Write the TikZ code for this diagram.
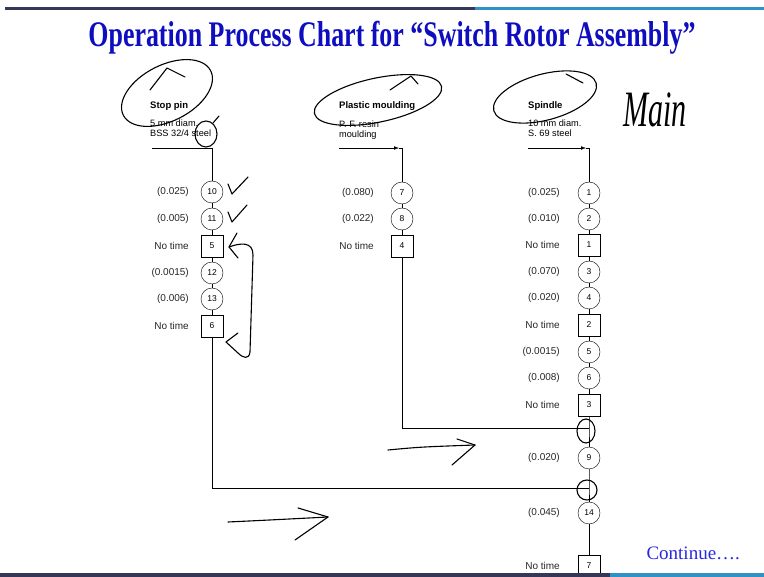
\documentclass[tikz,border=0pt]{standalone}
\usepackage{fontspec}
\setmainfont{Liberation Serif}
\setsansfont{Liberation Sans}
\usetikzlibrary{arrows.meta}
\definecolor{titleblue}{RGB}{14,14,192}
\definecolor{contblue}{RGB}{40,40,225}
\definecolor{navybar}{RGB}{52,56,88}
\definecolor{steelbar}{RGB}{48,146,196}
\tikzset{
  opcirc/.style={draw, circle, thin, minimum size=22pt, inner sep=0pt, font=\sffamily\fontsize{8.5}{9}\selectfont},
  inspbox/.style={draw, rectangle, thin, minimum size=22pt, inner sep=0pt, font=\sffamily\fontsize{8.5}{9}\selectfont},
  timelbl/.style={anchor=east, inner sep=0pt, font=\sffamily\fontsize{10}{11}\selectfont, text=black!85},
  parthead/.style={anchor=base west, inner sep=0pt, font=\sffamily\bfseries\fontsize{9.5}{10}\selectfont},
  partspec/.style={anchor=base west, inner sep=0pt, font=\sffamily\fontsize{9.2}{10}\selectfont},
  flowline/.style={thin},
  feedtip/.style={thin, -{Latex[length=5pt, width=3.5pt]}},
  hand/.style={line width=1.1pt, line cap=round, line join=round}
}
\begin{document}
\begin{tikzpicture}[x=1pt, y=-1pt]
  \useasboundingbox (0,0) rectangle (764,577);
  % title
  \node[anchor=base, xscale=0.72, text=titleblue, font=\bfseries\fontsize{36}{36}\selectfont] (title) at (392,47) {Operation Process Chart for “Switch Rotor Assembly”};

  % part headings
  \node[parthead] (sphead) at (150,109) {Stop pin};
  \node[partspec] (spspec1) at (150,127) {5 mm diam.};
  \node[partspec] (spspec2) at (150,137) {BSS 32/4 steel};
  \node[parthead] (pmhead) at (339,109) {Plastic moulding};
  \node[partspec] (pmspec1) at (339,128) {P. F. resin};
  \node[partspec] (pmspec2) at (339,138) {moulding};
  \node[parthead] (sdhead) at (528,109) {Spindle};
  \node[partspec] (sdspec1) at (528,127) {10 mm diam.};
  \node[partspec] (sdspec2) at (528,137) {S. 69 steel};

  % stop pin
  \node[opcirc] (op10) at (212,192) {10};
  \node[opcirc] (op11) at (212,219) {11};
  \node[inspbox] (in5) at (212,246) {5};
  \node[opcirc] (op12) at (212,273) {12};
  \node[opcirc] (op13) at (212,299) {13};
  \node[inspbox] (in6) at (212,326) {6};
  \node[timelbl] (t10) at (189,192) {(0.025)};
  \node[timelbl] (t11) at (189,219) {(0.005)};
  \node[timelbl] (t5) at (189,246) {No time};
  \node[timelbl] (t12) at (189,273) {(0.0015)};
  \node[timelbl] (t13) at (189,299) {(0.006)};
  \node[timelbl] (t6) at (189,326) {No time};

  % plastic moulding
  \node[opcirc] (op7) at (402,193) {7};
  \node[opcirc] (op8) at (402,219) {8};
  \node[inspbox] (in4) at (402,246) {4};
  \node[timelbl] (t7) at (374,193) {(0.080)};
  \node[timelbl] (t8) at (374,219) {(0.022)};
  \node[timelbl] (t4) at (374,246) {No time};

  % spindle
  \node[opcirc] (op1) at (589,193) {1};
  \node[opcirc] (op2) at (589,219) {2};
  \node[inspbox] (in1) at (589,245) {1};
  \node[opcirc] (op3) at (589,272) {3};
  \node[opcirc] (op4) at (589,298) {4};
  \node[inspbox] (in2) at (589,325) {2};
  \node[opcirc] (op5) at (589,352) {5};
  \node[opcirc] (op6) at (589,378) {6};
  \node[inspbox] (in3) at (589,405) {3};
  \node[opcirc] (op9) at (589,458) {9};
  \node[opcirc] (op14) at (589,513) {14};
  \node[inspbox] (in7) at (589,566) {7};
  \node[timelbl] (t1) at (560,193) {(0.025)};
  \node[timelbl] (t2) at (560,219) {(0.010)};
  \node[timelbl] (ti1) at (560,245) {No time};
  \node[timelbl] (t3) at (560,272) {(0.070)};
  \node[timelbl] (t4s) at (560,298) {(0.020)};
  \node[timelbl] (ti2) at (560,325) {No time};
  \node[timelbl] (t5s) at (560,352) {(0.0015)};
  \node[timelbl] (t6s) at (560,378) {(0.008)};
  \node[timelbl] (ti3) at (560,405) {No time};
  \node[timelbl] (t9) at (560,458) {(0.020)};
  \node[timelbl] (t14) at (560,513) {(0.045)};
  \node[timelbl] (ti7) at (560,566) {No time};

  % feed lines and joins
  \coordinate (spfeed) at (152,148);
  \coordinate (pmfeed) at (339,148);
  \coordinate (pmtip) at (399,148);
  \coordinate (sdfeed) at (528,148);
  \coordinate (sdtip) at (586,148);
  \coordinate (j1) at (589,428);
  \coordinate (j2) at (589,488);
  \draw[flowline] (spfeed) -| (op10);
  \draw[feedtip] (pmfeed) -- (pmtip);
  \draw[flowline] (pmtip) -| (op7);
  \draw[feedtip] (sdfeed) -- (sdtip);
  \draw[flowline] (sdtip) -| (op1);
  \draw[flowline] (op10) -- (op11) -- (in5) -- (op12) -- (op13) -- (in6);
  \draw[flowline] (in6) |- (j2);
  \draw[flowline] (op7) -- (op8) -- (in4);
  \draw[flowline] (in4) |- (j1);
  \draw[flowline] (op1) -- (op2) -- (in1) -- (op3) -- (op4) -- (in2) -- (op5) -- (op6) -- (in3) -- (j1) -- (op9) -- (j2) -- (op14) -- (in7);

  % handwritten marks
  \draw[hand, rotate around={27:(167,93)}] (167,93) ellipse (49 and 28);
  \draw[hand] (150,90) -- (167,68) -- (185,77);
  \draw[hand] (206,134) ellipse (11 and 13);
  \draw[hand] (213,123) -- (219,116);
  \draw[hand, rotate around={12:(378,100)}] (378,100) ellipse (65 and 22);
  \draw[hand] (390,90) -- (411,76) -- (418,84);
  \draw[hand, rotate around={15:(545,97)}] (545,97) ellipse (53 and 23);
  \draw[hand] (566,74) -- (583,83);
  \draw[hand] (228,184) -- (232,194) -- (248,177);
  \draw[hand] (228,212) -- (232,222) -- (247,205);
  \draw[hand] (229,247) .. controls (240,243) and (253,241) .. (253,255) -- (250,352) .. controls (249,360) and (243,358) .. (238,353) -- (226,342) -- (238,333);
  \draw[hand] (237,233) -- (229,247) -- (238,258);
  \draw[hand] (586,431) ellipse (9 and 12);
  \draw[hand] (587,490) ellipse (10 and 10);
  \draw[hand] (388,450) .. controls (420,447) .. (475,445);
  \draw[hand] (457,439) -- (475,445) -- (452,465);
  \draw[hand] (228,522) .. controls (270,520) .. (328,517);
  \draw[hand] (298,508) -- (328,517) -- (295,540);
  \node[anchor=center, yscale=1.7, font=\itshape\fontsize{30}{30}\selectfont] (mainnote) at (655,110) {Main};

  \node[anchor=base west, text=contblue, font=\fontsize{19}{19}\selectfont] (cont) at (643,559) {Continue….};

  % slide bars
  \fill[navybar] (5,7) rectangle (475,10);
  \fill[steelbar] (475,7) rectangle (764,10);
  \fill[navybar] (0,573) rectangle (610,577);
  \fill[steelbar] (610,573) rectangle (764,577);
\end{tikzpicture}
\end{document}
